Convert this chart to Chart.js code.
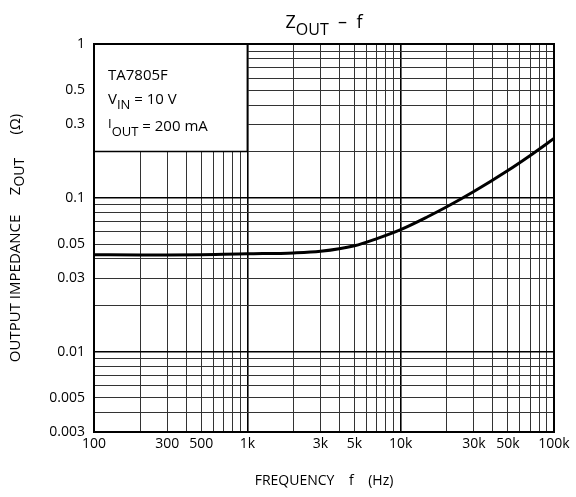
<!DOCTYPE html>
<html lang="en">
<head>
<meta charset="UTF-8">
<title>ZOUT - f</title>
<script src="https://cdn.jsdelivr.net/npm/chart.js"></script>
<style>
    html, body { margin: 0; padding: 0; background: #fff; }
    #wrap { width: 576px; height: 497px; }
</style>
</head>
<body>
<div id="wrap"><canvas id="grafico"></canvas></div>

<script>
    var frequencias = [100, 200, 300, 500, 700, 1000, 2000, 3000, 5000, 7000, 10000, 15000, 20000, 30000, 50000, 70000, 100000];
    var zout = [0.0427, 0.0425, 0.0424, 0.0426, 0.0429, 0.0432, 0.0438, 0.0449, 0.0488, 0.0543, 0.0621, 0.0753, 0.0874, 0.1098, 0.1505, 0.1886, 0.243];

    var xTicks = [100, 300, 500, 1000, 3000, 5000, 10000, 30000, 50000, 100000];
    var xTickLabels = ['100', '300', '500', '1k', '3k', '5k', '10k', '30k', '50k', '100k'];
    var yTicks = [1, 0.5, 0.3, 0.1, 0.05, 0.03, 0.01, 0.005, 0.003];
    var yTickLabels = ['1', '0.5', '0.3', '0.1', '0.05', '0.03', '0.01', '0.005', '0.003'];

    var fonte = '"Open Sans", "DejaVu Sans", sans-serif';

    // linhas de grade 1..9 em cada decada
    function gradeLog(min, max) {
        var out = [];
        for (var d = Math.floor(Math.log10(min)); d <= Math.ceil(Math.log10(max)); d++) {
            for (var m = 1; m <= 9; m++) {
                var v = parseFloat((m * Math.pow(10, d)).toPrecision(6));
                if (v >= min - 1e-12 && v <= max + 1e-12) out.push(v);
            }
        }
        return out;
    }
    var xGrade = gradeLog(100, 100000);
    var yGrade = gradeLog(0.003, 1);

    function rotulo(valores, rotulos, v) {
        for (var i = 0; i < valores.length; i++) {
            if (Math.abs(valores[i] - v) / valores[i] < 1e-6) return rotulos[i];
        }
        return '';
    }
    function ehDecada(v) {
        var l = Math.log10(v);
        return Math.abs(l - Math.round(l)) < 1e-6;
    }
    function corGrade(c) {
        if (!c.tick) return '#000';
        return ehDecada(c.tick.value) ? '#000' : '#333';
    }
    function larguraGrade(c) {
        if (!c.tick) return 1;
        return ehDecada(c.tick.value) ? 1.6 : 1;
    }

    // escreve texto com partes em subscrito
    function escreve(ctx, partes, x, y, centro) {
        var total = 0;
        partes.forEach(function (p) {
            ctx.font = p[1] + 'px ' + fonte;
            total += ctx.measureText(p[0]).width;
        });
        var px = centro ? x - total / 2 : x;
        partes.forEach(function (p) {
            ctx.font = p[1] + 'px ' + fonte;
            ctx.fillText(p[0], px, y + (p[2] || 0));
            px += ctx.measureText(p[0]).width;
        });
    }

    var caixa = {
        id: 'caixa',
        beforeDatasetsDraw: function (chart) {
            var ctx = chart.ctx, sx = chart.scales.x, sy = chart.scales.y;
            var x0 = sx.getPixelForValue(100), x1 = sx.getPixelForValue(1000);
            var y0 = sy.getPixelForValue(1), y1 = sy.getPixelForValue(0.2);
            ctx.save();
            ctx.fillStyle = '#fff';
            ctx.fillRect(x0, y0, x1 - x0, y1 - y0);
            ctx.strokeStyle = '#000';
            ctx.lineWidth = 1.5;
            ctx.strokeRect(x0, y0, x1 - x0, y1 - y0);
            ctx.fillStyle = '#000';
            ctx.textBaseline = 'alphabetic';
            ctx.textAlign = 'left';
            escreve(ctx, [['TA7805F', 15]], x0 + 14, y0 + 36);
            escreve(ctx, [['V', 15], ['IN', 13, 5], [' = 10 V', 15]], x0 + 14, y0 + 60);
            escreve(ctx, [['I', 13, -3], ['OUT', 13, 5], [' = 200 mA', 15]], x0 + 14, y0 + 87);
            ctx.restore();
        },
        afterDraw: function (chart) {
            var ctx = chart.ctx, a = chart.chartArea;
            ctx.save();
            ctx.strokeStyle = '#000';
            ctx.lineWidth = 2;
            ctx.strokeRect(a.left, a.top, a.right - a.left, a.bottom - a.top);
            ctx.fillStyle = '#000';
            ctx.textAlign = 'left';
            ctx.textBaseline = 'alphabetic';
            var cx = (a.left + a.right) / 2;
            escreve(ctx, [['Z', 18], ['OUT', 16, 7], ['  \u2013  f', 18]], cx, 28, true);
            escreve(ctx, [['FREQUENCY    f    (Hz)', 14]], cx, 485, true);
            ctx.translate(20, (a.top + a.bottom) / 2);
            ctx.rotate(-Math.PI / 2);
            escreve(ctx, [['OUTPUT IMPEDANCE     Z', 15], ['OUT', 14, 4], ['      (\u03a9)', 15]], 0, 0, true);
            ctx.restore();
        }
    };

    var pontos = frequencias.map(function (f, i) { return { x: f, y: zout[i] }; });

    var config = {
        type: 'line',
        data: {
            datasets: [{
                data: pontos,
                borderColor: '#000',
                borderWidth: 3,
                pointRadius: 0,
                fill: false,
                cubicInterpolationMode: 'monotone'
            }]
        },
        options: {
            responsive: true,
            maintainAspectRatio: false,
            animation: false,
            layout: { padding: { top: 44, right: 22, left: 0, bottom: 0 } },
            plugins: {
                legend: { display: false },
                title: { display: false },
                tooltip: { enabled: false }
            },
            scales: {
                x: {
                    type: 'logarithmic',
                    min: 100,
                    max: 100000,
                    afterBuildTicks: function (s) { s.ticks = xGrade.map(function (v) { return { value: v }; }); },
                    afterFit: function (s) { s.height = 65; },
                    ticks: {
                        autoSkip: false,
                        maxRotation: 0,
                        padding: 4,
                        color: '#000',
                        font: { size: 14, family: fonte },
                        callback: function (v) { return rotulo(xTicks, xTickLabels, v); }
                    },
                    grid: { color: corGrade, lineWidth: larguraGrade, drawTicks: false },
                    border: { display: true, color: '#000', width: 2 }
                },
                y: {
                    type: 'logarithmic',
                    min: 0.003,
                    max: 1,
                    afterBuildTicks: function (s) { s.ticks = yGrade.map(function (v) { return { value: v }; }); },
                    afterFit: function (s) { s.width = 94; },
                    ticks: {
                        autoSkip: false,
                        padding: 9,
                        color: '#000',
                        font: { size: 14, family: fonte },
                        callback: function (v) { return rotulo(yTicks, yTickLabels, v); }
                    },
                    grid: { color: corGrade, lineWidth: larguraGrade, drawTicks: false },
                    border: { display: true, color: '#000', width: 2 }
                }
            }
        },
        plugins: [caixa]
    };

    new Chart(document.getElementById('grafico').getContext('2d'), config);
</script>
</body>
</html>
